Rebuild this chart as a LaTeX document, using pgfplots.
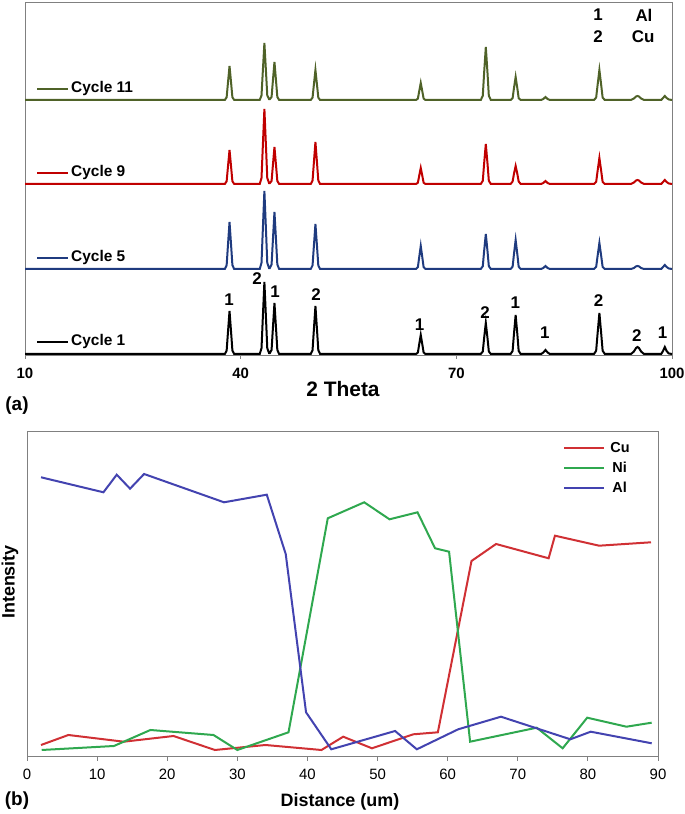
\documentclass[border=0pt]{standalone}
\usepackage{fontspec}
\setmainfont{Liberation Sans}
\usepackage{pgfplots}
\pgfplotsset{compat=1.18}
\usepackage{pgfplotstable}

\definecolor{cgreen}{HTML}{4F6228}
\definecolor{cred}{HTML}{C00000}
\definecolor{cnavy}{HTML}{1F3B7F}
\definecolor{cu}{HTML}{D03034}
\definecolor{ni}{HTML}{2FA84F}
\definecolor{al}{HTML}{4343B0}
\definecolor{axgray}{HTML}{808080}

\pgfplotstableread{
x c1 c5 c9 c11
10.00 0 0 0 0
37.80 0 0 0 0
38.05 3.4 3.8 2.7 2.7
38.23 21.5 23.5 17 17
38.45 43 47 34 34
38.67 21.5 23.5 17 17
38.85 3.4 3.8 2.7 2.7
39.10 0 0 0 0
42.65 0 0 0 0
42.90 5.8 6.2 6 4.6
43.08 36 39 37.5 28.5
43.30 72 78 75 57
43.52 36 39 37.5 28.5
43.70 5.8 6.2 6 4.6
43.95 0.8 0.8 0.8 0.8
44.05 0.8 0.8 0.8 0.8
44.30 4.1 4.6 3 3
44.48 25.5 28.5 18.5 19
44.70 51 57 37 38
44.92 25.5 28.5 18.5 19
45.10 4.1 4.6 3 3
45.35 0 0 0 0
49.75 0 0 0 0
50.00 3.8 3.6 3.4 2.4
50.18 24 22.5 21 15
50.40 48 45 42 30
50.62 24 22.5 21 15
50.80 3.8 3.6 3.4 2.4
51.05 0 0 0 0
64.40 0 0 0 0
64.65 1.5 1.8 1.3 1.4
64.83 9.5 11.5 8 8.5
65.05 19 23 16 17
65.27 9.5 11.5 8 8.5
65.45 1.5 1.8 1.3 1.4
65.70 0 0 0 0
73.40 0 0 0 0
73.68 2.5 2.8 3.2 4.2
73.86 15.5 17.5 20 26.5
74.10 31 35 40 53
74.34 15.5 17.5 20 26.5
74.52 2.5 2.8 3.2 4.2
74.80 0 0 0 0
77.55 0 0 0 0
77.83 3.1 2.3 2.5 1.8
78.01 19.5 14.5 10 11.5
78.25 39 29 18 23
78.49 19.5 14.5 10 11.5
78.67 3.1 2.3 2.5 1.8
78.95 0 0 0 0
81.80 0 0 0 0
82.10 1.5 1 1 1
82.40 4 3 3 3
82.70 1.5 1 1 1
83.00 0 0 0 0
89.15 0 0 0 0
89.45 3.3 2.1 2.1 2.4
89.65 20.5 13 13 15
89.90 41 26 26 30
90.15 20.5 13 13 15
90.35 3.3 2.1 2.1 2.4
90.65 0 0 0 0
94.30 0 0 0 0
94.70 2.5 1 1.5 1.5
95.00 6 2.6 3.5 3.5
95.20 7 3 4 4
95.40 6 2.6 3.5 3.5
95.70 2.5 1 1.5 1.5
96.10 0 0 0 0
98.50 0 0 0 0
98.75 3 2 2 2
99.00 7 4 4 4
99.25 3 2 2 2
99.55 0.5 0.5 0.5 0.5
100.00 0 0 0 0
}\xrd

\begin{document}
\begin{tikzpicture}[x=1bp,y=1bp]
\useasboundingbox (0,0) rectangle (685,814);

% ---------------- (a) XRD ----------------
\begin{axis}[
  at={(25bp,459bp)}, anchor=south west,
  scale only axis, width=647bp, height=353bp,
  xmin=10, xmax=100, ymin=-1, ymax=352,
  axis line style={axgray, line width=0.9bp},
  xtick={10,40,70,100}, ytick=\empty,
  xtick pos=bottom, tick align=outside,
  major tick length=4bp,
  tick style={axgray, line width=0.9bp},
  /pgf/number format/assume math mode=true,
  xticklabel style={font=\fontsize{15}{18}\selectfont\bfseries, yshift=-6bp},
  clip=false,
]
\addplot[black, line width=2bp] table[x=x, y=c1] {\xrd};
\addplot[cnavy, line width=2bp] table[x=x, y expr=\thisrow{c5}+85] {\xrd};
\addplot[cred, line width=2bp] table[x=x, y expr=\thisrow{c9}+170] {\xrd};
\addplot[cgreen, line width=2bp] table[x=x, y expr=\thisrow{c11}+254] {\xrd};

% series labels
\draw[cgreen, line width=2bp] (11.67,265) -- (15.98,265);
\node[anchor=west, font=\fontsize{15.5}{18}\selectfont\bfseries, inner sep=0pt] at (16.4,265) {Cycle 11};
\draw[cred, line width=2bp] (11.67,181) -- (15.98,181);
\node[anchor=west, font=\fontsize{15.5}{18}\selectfont\bfseries, inner sep=0pt] at (16.4,181) {Cycle 9};
\draw[cnavy, line width=2bp] (11.67,96) -- (15.98,96);
\node[anchor=west, font=\fontsize{15.5}{18}\selectfont\bfseries, inner sep=0pt] at (16.4,96) {Cycle 5};
\draw[black, line width=2bp] (11.67,12) -- (15.98,12);
\node[anchor=west, font=\fontsize{15.5}{18}\selectfont\bfseries, inner sep=0pt] at (16.4,12) {Cycle 1};

% peak labels
\begin{scope}[every node/.style={font=\fontsize{17}{20}\selectfont\bfseries, inner sep=0pt}]
\node at (38.4,54) {1};
\node at (42.3,75) {2};
\node at (44.8,62) {1};
\node at (50.5,59) {2};
\node at (64.9,29) {1};
\node at (74.0,41) {2};
\node at (78.2,51) {1};
\node at (82.3,21) {1};
\node at (89.8,53) {2};
\node at (95.1,18) {2};
\node at (98.7,21) {1};
\node at (89.7,339) {1};
\node at (89.7,317) {2};
\node at (96.1,339) {Al};
\node at (96.0,317) {Cu};
\end{scope}
\end{axis}

\node[font=\fontsize{21}{24}\selectfont\bfseries] at (343,425) {2 Theta};
\node[font=\fontsize{19}{22}\selectfont\bfseries] at (17,408) {(a)};

% ---------------- (b) line scan ----------------
\begin{axis}[
  at={(27bp,58bp)}, anchor=south west,
  scale only axis, width=631bp, height=325bp,
  xmin=0, xmax=90, ymin=0, ymax=325,
  axis line style={axgray, line width=0.9bp},
  xtick={0,10,...,90}, ytick=\empty,
  xtick pos=bottom, tick align=outside,
  major tick length=5bp,
  tick style={axgray, line width=0.9bp},
  /pgf/number format/assume math mode=true,
  xticklabel style={font=\fontsize{15}{18}\selectfont, yshift=-5bp},
  legend style={draw=none, fill=none, at={(0.845,0.978)}, anchor=north west,
    font=\fontsize{14.5}{17}\selectfont\bfseries, row sep=4bp},
  legend cell align=left,
  legend image code/.code={\draw[#1, line width=2bp] (0bp,0bp) -- (40bp,0bp);},
]
\addplot[cu, line width=2bp] coordinates {
(2,11) (5.9,21) (13.8,14.3) (20.9,20) (26.8,6) (34,11) (42,6) (45.1,19.3)
(49.2,7.7) (55.1,21.7) (58.6,23.7) (63.4,195) (66.9,212) (74.4,197.7)
(75.3,220.3) (81.6,210.3) (89,213.7)};
\addlegendentry{\hspace{3bp}Cu}
\addplot[ni, line width=2bp] coordinates {
(2.1,6) (12.4,10) (17.6,26) (26.6,21) (30,6) (37.3,23.7) (42.9,237.7)
(48.1,253.7) (51.7,236.7) (55.7,243.7) (58.2,207.7) (60.2,204.3) (63.2,14.3)
(72.7,28.3) (76.4,7.7) (79.9,38.3) (85.5,29.3) (89.1,33.3)};
\addlegendentry{\hspace{5bp}Ni}
\addplot[al, line width=2bp] coordinates {
(2,278.7) (10.9,263.7) (12.8,281.3) (14.7,267.3) (16.7,282) (28.1,253.7)
(34.2,261.3) (36.9,202) (39.8,43.7) (43.4,6.7) (52.5,25) (55.6,6.7)
(61.5,26.7) (67.6,39.3) (77.5,16.7) (80.4,24.3) (89.1,12.7)};
\addlegendentry{\hspace{5bp}Al}
\end{axis}

\node[font=\fontsize{18}{21}\selectfont\bfseries] at (340,12) {Distance (um)};
\node[font=\fontsize{18}{21}\selectfont\bfseries, rotate=90] at (10,232) {Intensity};
\node[font=\fontsize{19}{22}\selectfont\bfseries] at (17,13) {(b)};
\end{tikzpicture}
\end{document}
